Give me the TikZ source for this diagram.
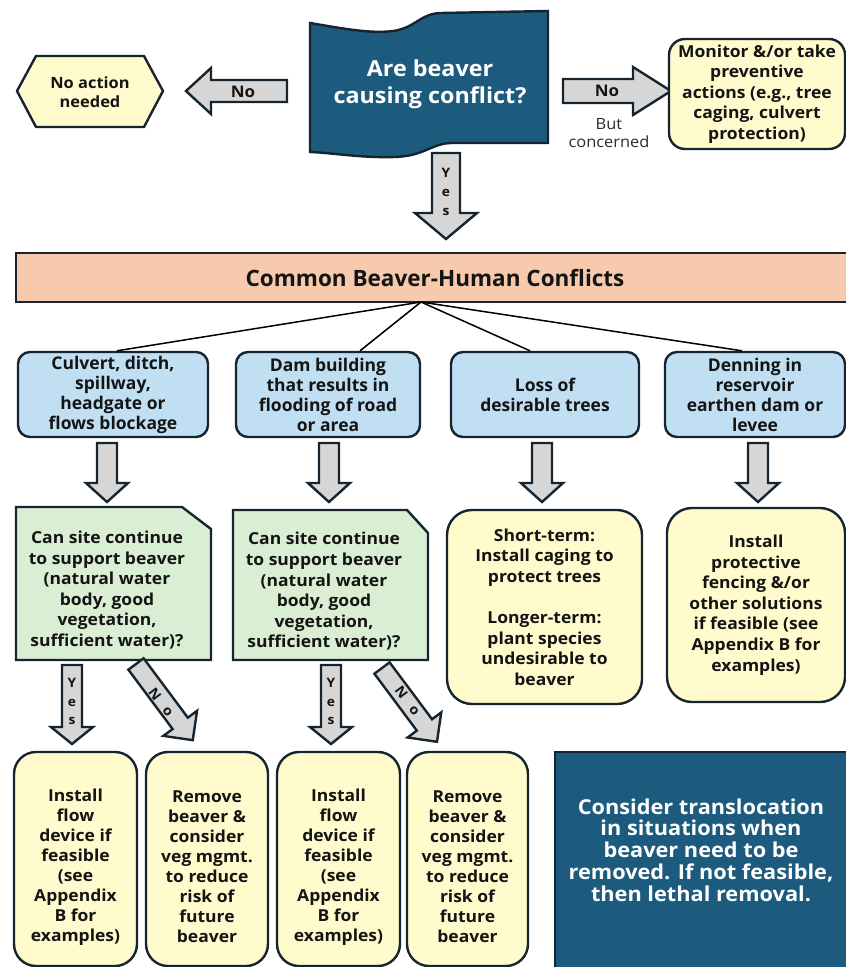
\documentclass[tikz,border=0pt]{standalone}
\usepackage{fontspec}
\setmainfont{Open Sans}[FakeStretch=1.06]
\newfontfamily\plainfont{Open Sans}
\usetikzlibrary{calc}
\definecolor{navy}{HTML}{1D5B7E}
\definecolor{edge}{HTML}{15242E}
\definecolor{agray}{HTML}{D6D6D6}
\definecolor{lyellow}{HTML}{FFFBCC}
\definecolor{lblue}{HTML}{C1DFF3}
\definecolor{lgreen}{HTML}{DAEED4}
\definecolor{peach}{HTML}{F7CAAD}
\definecolor{ink}{HTML}{141414}
\definecolor{soft}{HTML}{2C2C2C}
% #1 tail coordinate, #2 canvas angle, #3 length, #4 head length, #5 body half width, #6 head half width
\newcommand\blockarrow[6]{%
  \begin{scope}[shift={(#1)},rotate=#2]
    \draw[barr] (0,-#5) -- ({#3-#4},-#5) -- ({#3-#4},-#6) -- (#3,0) -- ({#3-#4},#6) -- ({#3-#4},#5) -- (0,#5) -- cycle;
  \end{scope}}
\begin{document}
\begin{tikzpicture}[x=1pt,y=-1pt,
  bd/.style={draw=edge, line width=2.4pt},
  barr/.style={draw=edge, line width=2.4pt, fill=agray, line join=miter},
  txt/.style={font=\bfseries\fontsize{16.5}{20.6}\selectfont, align=center, text=ink, inner sep=0pt},
  ntxt/.style={font=\plainfont\bfseries\fontsize{17.5}{20}\selectfont, align=center, text=ink, inner sep=0pt},
  lbl/.style={font=\bfseries\fontsize{16}{18}\selectfont, text=ink, inner sep=0pt},
  yes/.style={font=\bfseries\fontsize{13}{19}\selectfont, align=center, text=ink, inner sep=0pt},
  nolet/.style={font=\bfseries\fontsize{13.5}{15}\selectfont, text=ink, inner sep=0pt, rotate=-53.3},
  bluebox/.style={bd, fill=lblue, rounded corners=12pt, minimum height=85pt, inner sep=0pt, ntxt},
  ybox/.style={bd, fill=lyellow, rounded corners=22pt, inner sep=0pt},
  fanline/.style={draw=black, line width=1.5pt}
]
\useasboundingbox (0,0) rectangle (846,967);

% ---------- top row ----------
\draw[bd, fill=lyellow] (17,91) -- (36,56) -- (144,56) -- (163,91) -- (144,127) -- (36,127) -- cycle;
\node[txt, font=\bfseries\fontsize{15.5}{19}\selectfont] (noact) at (90,92) {No action\\needed};

\coordinate (laS) at (287,91);
\blockarrow{laS}{180}{101}{25}{11}{23}
\node[lbl] (laN) at (243,92) {No};

\draw[bd, fill=navy] (310,23) .. controls (340,28) and (370,34) .. (393,31)
  .. controls (415,28) and (420,14) .. (440,13) -- (548,11) -- (548,143) -- (452,143)
  .. controls (432,143) and (425,156) .. (395,157) .. controls (360,158) and (335,153) .. (310,152) -- cycle;
\node[font=\bfseries\fontsize{22}{27}\selectfont, text=white, align=center, inner sep=0pt] (q) at (430,84) {Are beaver\\causing conflict?};

\coordinate (raS) at (563,91);
\blockarrow{raS}{0}{108}{38}{12}{24}
\node[lbl] (raN) at (607,91) {No};
\node[font=\fontsize{15.5}{18}\selectfont, text=soft, align=center, inner sep=0pt] (bc) at (609,133) {But\\concerned};

\node[bd, fill=lyellow, rounded corners=16pt, minimum width=176pt, minimum height=110pt, inner sep=0pt, txt] (mon) at (757,94)
  {Monitor \&/or take\\preventive\\actions (e.g., tree\\caging, culvert\\protection)};

\coordinate (yaS) at (446,153);
\blockarrow{yaS}{-90}{86}{26}{14}{31}
\node[yes] (yaY) at (446,192) {Y\\e\\s};

% ---------- conflicts ----------
\node[bd, fill=peach, minimum width=838pt, minimum height=49pt, inner sep=0pt,
  font=\plainfont\bfseries\fontsize{22.5}{25}\selectfont, text=ink] (cbh) at (435,277.5) {Common Beaver-Human Conflicts};

\node[bluebox, minimum width=190pt] (cul) at (113,394.5) {Culvert, ditch,\\spillway,\\headgate or\\flows blockage};
\node[bluebox, minimum width=184pt] (dam) at (328,394.5) {Dam building\\that results in\\flooding of road\\or area};
\node[bluebox, minimum width=188pt] (loss) at (545,394.5) {Loss of\\desirable trees};
\node[bluebox, minimum width=180pt] (den) at (755,394.5) {Denning in\\reservoir\\earthen dam or\\levee};

\coordinate (fan) at (421,302);
\draw[fanline] (fan) -- (117,0 |- cul.north);
\draw[fanline] (fan) -- (360,0 |- dam.north);
\draw[fanline] (fan) -- (530,0 |- loss.north);
\draw[fanline] (fan) -- (742,0 |- den.north);

\coordinate (d1) at (107,443);
\coordinate (d2) at (329,443);
\coordinate (d3) at (542,443);
\coordinate (d4) at (758,443);
\blockarrow{d1}{-90}{59}{19}{10}{21}
\blockarrow{d2}{-90}{59}{19}{10}{21}
\blockarrow{d3}{-90}{59}{19}{10}{21}
\blockarrow{d4}{-90}{59}{19}{10}{21}

% ---------- third row ----------
\draw[bd, fill=lgreen] (16,507) -- (182,507) -- (211,529) -- (211,660) -- (16,660) -- cycle;
\node[txt] (g1) at (107,590) {Can site continue\\to support beaver\\(natural water\\body, good\\vegetation,\\sufficient water)?};
\draw[bd, fill=lgreen] (233,510) -- (407,510) -- (428,533) -- (428,660) -- (233,660) -- cycle;
\node[txt] (g2) at (324,591.5) {Can site continue\\to support beaver\\(natural water\\body, good\\vegetation,\\sufficient water)?};

\node[ybox, rounded corners=25pt, minimum width=195pt, minimum height=194pt, txt] (short) at (544.5,607)
  {Short-term:\\Install caging to\\protect trees\\[20.6pt]Longer-term:\\plant species\\undesirable to\\beaver};
\node[ybox, rounded corners=25pt, minimum width=178pt, minimum height=194pt, txt] (fence) at (756,605)
  {Install\\protective\\fencing \&/or\\other solutions\\if feasible (see\\Appendix B for\\examples)};

% yes / no arrows
\coordinate (y1) at (72,665);
\coordinate (y2) at (331,665);
\blockarrow{y1}{-90}{79}{17}{10}{21}
\blockarrow{y2}{-90}{79}{17}{10}{21}
\node[yes, font=\bfseries\fontsize{13}{18.5}\selectfont] (y1t) at (72,701.5) {Y\\e\\s};
\node[yes, font=\bfseries\fontsize{13}{18.5}\selectfont] (y2t) at (331,701.5) {Y\\e\\s};

\coordinate (n1) at (136,664);
\coordinate (n2) at (382,668);
\blockarrow{n1}{-53.3}{95}{21}{9.5}{21}
\blockarrow{n2}{-53.3}{92}{21}{9.5}{21}
\node[nolet] (n1N) at (155,694) {N};
\node[nolet] (n1o) at (167.5,712) {o};
\node[nolet] (n2N) at (401.5,692.5) {N};
\node[nolet] (n2o) at (414,711) {o};

% ---------- bottom row ----------
\node[ybox, minimum width=123pt, minimum height=214pt] (b1) at (75.5,859) {};
\node[ybox, minimum width=122pt, minimum height=214pt] (b2) at (207,859) {};
\node[ybox, minimum width=123pt, minimum height=214pt] (b3) at (338.5,859) {};
\node[ybox, minimum width=121pt, minimum height=214pt] (b4) at (467.5,859) {};
\node[txt, font=\bfseries\fontsize{16.5}{20}\selectfont] (b1t) at (75.5,867) {Install\\flow\\device if\\feasible\\(see\\Appendix\\B for\\examples)};
\node[txt, font=\bfseries\fontsize{16.5}{20}\selectfont] (b2t) at (207,867) {Remove\\beaver \&\\consider\\veg mgmt.\\to reduce\\risk of\\future\\beaver};
\node[txt, font=\bfseries\fontsize{16.5}{20}\selectfont] (b3t) at (338.5,867) {Install\\flow\\device if\\feasible\\(see\\Appendix\\B for\\examples)};
\node[txt, font=\bfseries\fontsize{16.5}{20}\selectfont] (b4t) at (467.5,867) {Remove\\beaver \&\\consider\\veg mgmt.\\to reduce\\risk of\\future\\beaver};

\draw[bd, fill=navy] (555,752) rectangle (852,975);
\node[font=\bfseries\fontsize{20.5}{21.7}\selectfont, text=white, align=center, inner sep=0pt] (trans) at (701,850)
  {Consider translocation\\in situations when\\beaver need to be\\removed. If not feasible,\\then lethal removal.};
\end{tikzpicture}
\end{document}
